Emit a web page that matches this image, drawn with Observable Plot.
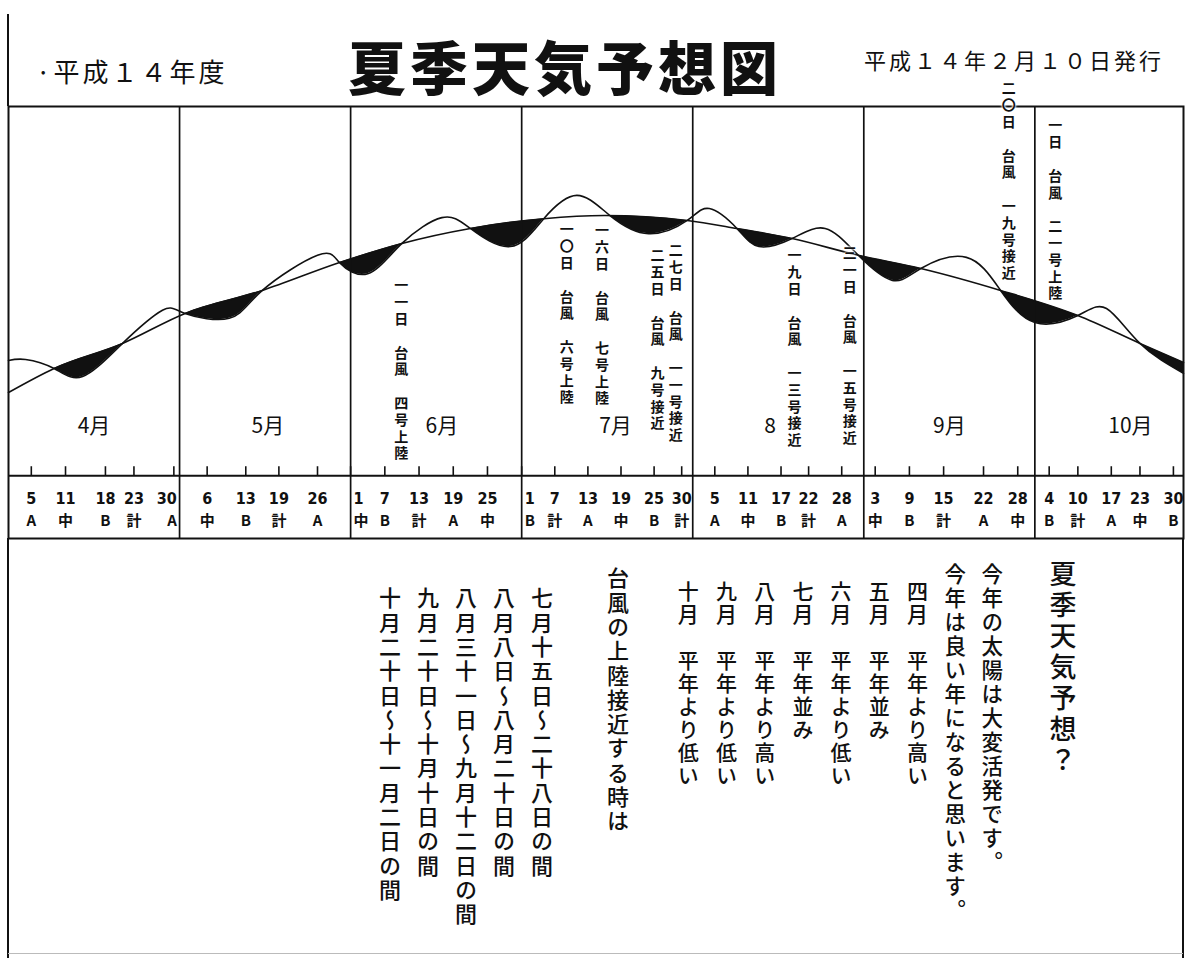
<!DOCTYPE html>
<html><head><meta charset="utf-8">
<script src="https://cdn.jsdelivr.net/npm/d3@7"></script>
<script src="https://cdn.jsdelivr.net/npm/@observablehq/plot@0.6"></script>
<style>
html,body{margin:0;padding:0;background:#fff;}
#page{position:relative;width:1187px;height:958px;overflow:hidden;background:#fff;color:#111;font-family:"Noto Sans CJK JP","Noto Sans",sans-serif;}
#page svg{position:absolute;left:0;top:0;}
.abs{position:absolute;white-space:nowrap;line-height:1;}
.v{writing-mode:vertical-rl;}
.ln{position:absolute;background:#111;}
.ann{text-shadow:0 0 2px #fff,0 0 2px #fff,0 0 3px #fff;}
</style></head>
<body><div id="page"></div>
<script>
// ---------------- data ----------------
const headerLeft = "·平成１４年度";
const headerTitle = "夏季天気予想図";
const headerRight = "平成１４年２月１０日発行";

const monthLabels = ["4月", "5月", "6月", "7月", "8", "9月", "10月"];
const monthLabelDates = ["4/16", "5/17", "6/17", "7/18", "8/15", "9/16", "10/21"];
const monthStartDates = ["5/1", "6/1", "7/1", "8/1", "9/1", "10/1"];

// smooth seasonal (normal) curve
const trendDates = ["4/1","4/9","4/21","5/2","5/16","5/30","6/10","6/22","7/5","7/16","7/31","8/9","8/19","8/31","9/11","9/25","10/10","10/23","11/1"];
const trendValues = [23.9,30.8,38.0,46.6,53.2,61.2,66.7,71.0,73.8,74.7,73.3,71.0,68.1,63.3,59.5,53.2,46.0,38.0,32.5];

// forecast (wavy) curve
const forecastDates = ["4/1","4/4","4/9","4/14","4/21","4/28","5/2","5/10","5/16","5/26","5/30","6/4","6/10","6/17","6/22","6/29","7/5","7/11","7/17","7/24","7/31","8/4","8/9","8/13","8/19","8/25","8/31","9/6","9/11","9/19","9/25","10/1","10/10","10/16","10/23","11/1"];
const forecastValues = [33.1,33.4,30.8,28.5,38.0,47.5,46.6,45.2,53.2,63.3,61.2,58.0,66.7,74.1,71.0,65.8,73.8,80.5,74.7,69.5,73.3,76.7,71.0,65.8,68.1,71.0,63.3,56.1,59.5,62.7,53.2,44.0,46.0,48.0,38.0,29.4];

// date ticks and their codes
const tickDates = ["4/5","4/11","4/18","4/23","4/30","5/6","5/13","5/19","5/26","6/1","6/7","6/13","6/19","6/25","7/1","7/7","7/13","7/19","7/25","7/30","8/5","8/11","8/17","8/22","8/28","9/3","9/9","9/15","9/22","9/28","10/4","10/10","10/17","10/23","10/30"];
const tickCodes = ["A","中","B","計","A", "中","B","計","A", "中","B","計","A","中", "B","計","A","中","B","計", "A","中","B","計","A", "中","B","計","A","中", "B","計","A","中","B"];

// typhoon annotations
const typhoonDates = ["6/11","7/10","7/16","7/25","7/27","8/19","8/31","9/20","10/1"];
const typhoonTexts = ["一一日　台風　四号上陸","一〇日　台風　六号上陸","一六日　台風　七号上陸","二五日　台風　九号接近","二七日　台風　一一号接近","一九日　台風　一三号接近","三一日　台風　一五号接近","二〇日　台風　一九号接近","一日　台風　二一号上陸"];

// lower text
const outlookHeadline = "夏季天気予想？";
const outlookIntro = ["今年の太陽は大変活発です。", "今年は良い年になると思います。"];
const outlookMonths = ["四月","五月","六月","七月","八月","九月","十月"];
const outlookTexts = ["平年より高い","平年並み","平年より低い","平年並み","平年より高い","平年より低い","平年より低い"];
const typhoonHeading = "台風の上陸接近する時は";
const typhoonPeriods = ["七月十五日～二十八日の間","八月八日～八月二十日の間","八月三十一日～九月十二日の間","九月二十日～十月十日の間","十月二十日～十一月二日の間"];

// ---------------- layout ----------------
// calendar: day of season -> month units on the sheet (October is drawn compressed)
const MONTH_START = {4: 0, 5: 30, 6: 61, 7: 91, 8: 122, 9: 153, 10: 183, 11: 214};
const MONTH_LEN = {4: 30, 5: 31, 6: 30, 7: 31, 8: 31, 9: 30, 10: 31};
const day = s => { const [m, d] = s.split("/").map(Number); return MONTH_START[m] + d - 1; };
const cal = d3.scaleLinear()
  .domain(["4/1","5/1","6/1","7/1","8/1","9/1","10/1","10/30","11/1"].map(day))
  .range([0, 1, 2, 3, 4, 5, 6, 6.81, 6.869]);
const X = d => cal(d.day);

const annLayout = [
  {dx: -6, top: 278}, {dx: -4, top: 222}, {dx: -2, top: 223}, {dx: 4, top: 248}, {dx: 11, top: 243},
  {dx: 3, top: 248}, {dx: -8, top: 246}, {dx: 37, top: 81}, {dx: 21, top: 118}
];
const INK = "#111";

const trendRows = trendDates.map((d, i) => ({day: day(d), v: trendValues[i]}));
const forecastRows = forecastDates.map((d, i) => ({day: day(d), v: forecastValues[i]}));
const tickRows = tickDates.map((d, i) => {
  const [m, dd] = d.split("/").map(Number);
  return {day: day(d), num: String(dd), code: tickCodes[i], anchor: dd === 1 ? "start" : dd === MONTH_LEN[m] ? "end" : "middle"};
});
const monthRows = monthLabels.map((t, i) => ({day: day(monthLabelDates[i]), name: t}));
const startRows = monthStartDates.map(d => ({day: day(d)}));
const typhoonRows = typhoonDates.map((d, i) => ({day: day(d), label: typhoonTexts[i]}));

const cjk = "Noto Sans CJK JP";
const numFont = "'Liberation Sans Narrow','DejaVu Sans Condensed','Liberation Sans',sans-serif";

const tickTextMarks = ["middle", "start", "end"].flatMap(anchor => {
  const rows = tickRows.filter(r => r.anchor === anchor);
  const dx = anchor === "start" ? 3 : anchor === "end" ? 3 : 0;
  return [
    Plot.text(rows, {x: X, y: 0, dy: 23, dx, text: "num", textAnchor: anchor, fontSize: 16, fontWeight: 700, fontFamily: numFont, fill: INK}),
    Plot.text(rows, {x: X, y: 0, dy: 45, dx, text: "code", textAnchor: anchor, fontSize: 15, fontWeight: 700, fontFamily: cjk, fill: INK})
  ];
});

const chart = Plot.plot({
  width: 1187, height: 958,
  marginLeft: 8, marginRight: 4, marginTop: 106, marginBottom: 420,
  x: {domain: [0, 6.869], axis: null},
  y: {domain: [-18, 106], axis: null},
  style: {background: "transparent", overflow: "visible"},
  marks: [
    Plot.areaY(trendRows, {x: X, y1: 0, y2: "v", fill: INK, curve: "monotone-x"}),
    Plot.areaY(forecastRows, {x: X, y1: 0, y2: "v", fill: "white", curve: "natural"}),
    Plot.lineY(trendRows, {x: X, y: "v", stroke: INK, strokeWidth: 1.6, curve: "monotone-x"}),
    Plot.lineY(forecastRows, {x: X, y: "v", stroke: INK, strokeWidth: 1.6, curve: "natural"}),
    Plot.ruleX(startRows, {x: X, stroke: INK, strokeWidth: 1.7}),
    Plot.ruleY([0], {stroke: INK, strokeWidth: 2}),
    Plot.ruleX(tickRows, {x: X, y1: 0, y2: 2.6, stroke: INK, strokeWidth: 1.6}),
    ...tickTextMarks,
    Plot.text(monthRows, {x: X, y: 0, dy: -50, text: "name", fontSize: 21, fontFamily: cjk, fill: INK}),
    Plot.frame({stroke: INK, strokeWidth: 2})
  ]
});

const page = document.getElementById("page");
page.appendChild(chart);
const xs = chart.scale("x");

function addText(text, {left, top, size, weight = 400, spacing = 0, vertical = false, width, align, cls = ""}) {
  const el = document.createElement("div");
  el.className = "abs" + (vertical ? " v" : "") + (cls ? " " + cls : "");
  el.textContent = text;
  el.style.left = left + "px";
  el.style.top = top + "px";
  el.style.fontSize = size + "px";
  el.style.fontWeight = weight;
  el.style.letterSpacing = spacing + "px";
  if (width) el.style.width = width + "px";
  if (align) el.style.textAlign = align;
  page.appendChild(el);
  return el;
}
function addLine(left, top, w, h, color) {
  const el = document.createElement("div");
  el.className = "ln";
  Object.assign(el.style, {left: left + "px", top: top + "px", width: w + "px", height: h + "px"});
  if (color) el.style.background = color;
  page.appendChild(el);
}

// frame outside the plot
addLine(7, 14, 2, 92);
addLine(7, 538, 2, 420);
addLine(1182, 538, 2, 420);
addLine(8, 953, 1175, 1, "#bbb");

// typhoon annotations, placed with the chart's x scale
typhoonRows.forEach((r, i) => {
  const cx = xs.apply(cal(r.day)) + annLayout[i].dx;
  addText(r.label, {left: cx - 7, top: annLayout[i].top, size: 14, weight: 700, spacing: 2.8, vertical: true, cls: "ann"});
});

// header
addText(headerLeft, {left: 36, top: 58, size: 26, spacing: 3});
addText(headerTitle, {left: 315, top: 36, size: 58, weight: 900, spacing: 4, width: 500, align: "center"});
addText(headerRight, {left: 864, top: 48, size: 22, spacing: 3});

// lower text, vertical columns
const vcol = (text, cx, top, size, spacing, weight = 500) =>
  addText(text, {left: cx - size / 2, top, size, spacing, weight, vertical: true});
vcol(outlookHeadline, 1063, 560, 27, 4);
outlookIntro.forEach((t, i) => vcol(t, 992 - i * 37, 563, 21.5, 2.5));
outlookMonths.forEach((m, i) => vcol(m + "　" + outlookTexts[i], 917 - i * 38.2, 581, 21, 2));
vcol(typhoonHeading, 618, 567, 22, 2.3);
typhoonPeriods.forEach((t, i) => vcol(t, 542 - i * 38, 587, 22, 2.3));
</script>
</body></html>
